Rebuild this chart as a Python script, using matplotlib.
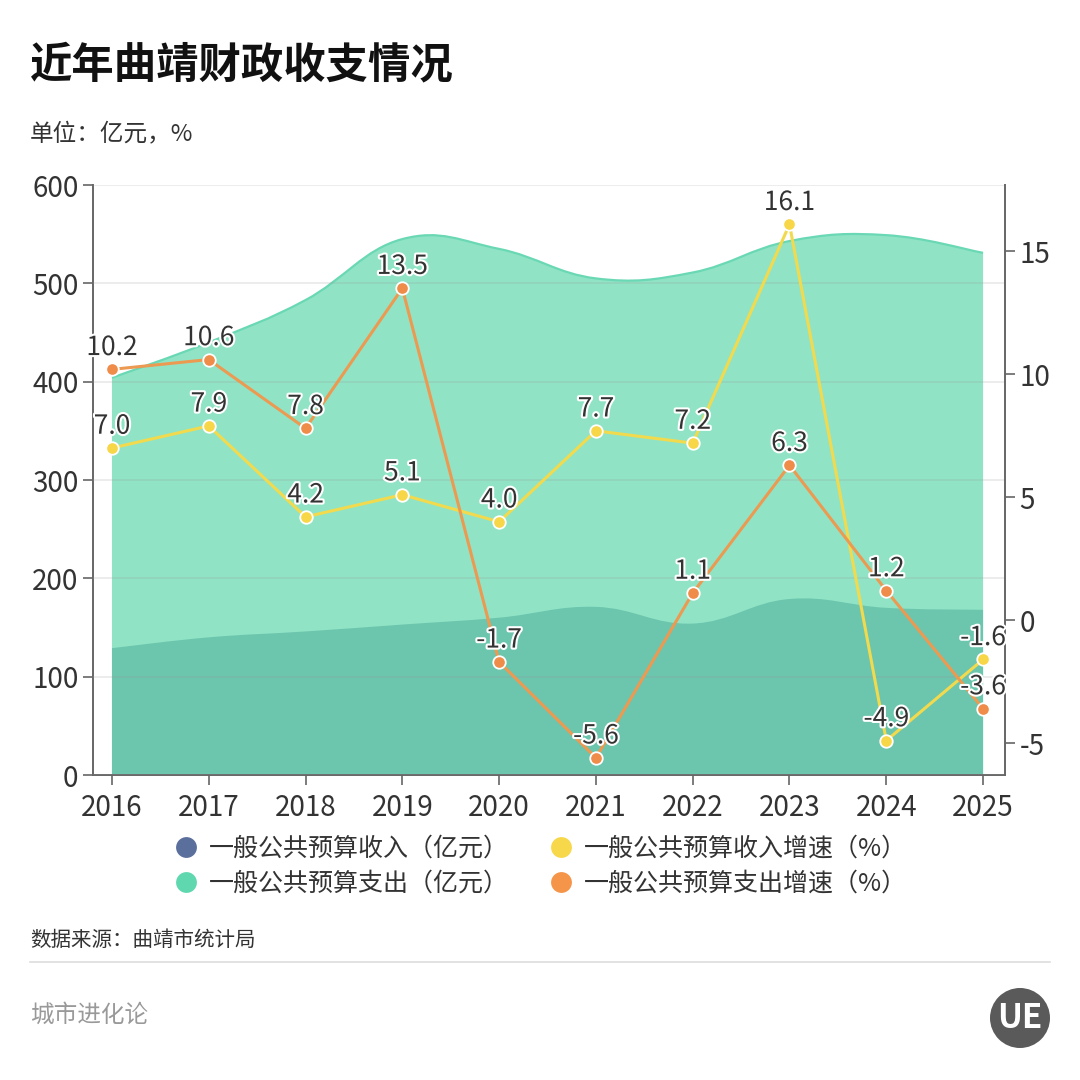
import numpy as np
import matplotlib
matplotlib.use('Agg')
import matplotlib.pyplot as plt
from matplotlib.path import Path
from matplotlib.patches import PathPatch, Circle
from matplotlib.lines import Line2D
import matplotlib.patheffects as pe

plt.rcParams['font.family'] = ['Noto Sans CJK SC', 'DejaVu Sans']

# data
years = ['2016', '2017', '2018', '2019', '2020', '2021', '2022', '2023', '2024', '2025']
revenue = [129, 140, 146, 153, 160, 171, 154, 179, 170, 168]        # 一般公共预算收入（亿元）
expenditure = [404, 440, 483, 545, 535, 505, 511, 543, 549, 531]    # 一般公共预算支出（亿元）
rev_growth = [7.0, 7.9, 4.2, 5.1, 4.0, 7.7, 7.2, 16.1, -4.9, -1.6]  # 收入增速（%）
exp_growth = [10.2, 10.6, 7.8, 13.5, -1.7, -5.6, 1.1, 6.3, 1.2, -3.6]  # 支出增速（%）

c_rev_area = '#6cc5ad'
c_exp_area = '#90e4c5'
c_exp_edge = '#6ad8b4'
c_yellow = '#f2da4e'
c_orange = '#ec9a52'
c_axis = '#666666'
c_text = '#333333'


def smooth_path(x, y, s=0.2, base=None):
    pts = np.column_stack([x, y]).astype(float)
    n = len(pts)
    verts = [pts[0]]
    codes = [Path.MOVETO]
    for i in range(n - 1):
        p0 = pts[i - 1] if i > 0 else pts[i]
        p1 = pts[i]
        p2 = pts[i + 1]
        p3 = pts[i + 2] if i + 2 < n else pts[i + 1]
        verts += [p1 + s * (p2 - p0), p2 - s * (p3 - p1), p2]
        codes += [Path.CURVE4] * 3
    if base is not None:
        verts += [(x[-1], base), (x[0], base), pts[0]]
        codes += [Path.LINETO, Path.LINETO, Path.CLOSEPOLY]
    return Path(verts, codes)


fig = plt.figure(figsize=(10.8, 10.8), dpi=100)
ax = fig.add_axes([0.0861, 0.2824, 0.8445, 0.5463])
x = np.arange(len(years))

ax.add_patch(PathPatch(smooth_path(x, expenditure, base=0), facecolor=c_exp_area,
                       edgecolor='none', zorder=1))
ax.add_patch(PathPatch(smooth_path(x, expenditure), facecolor='none',
                       edgecolor=c_exp_edge, lw=1.6, zorder=1.2))
ax.add_patch(PathPatch(smooth_path(x, revenue, base=0), facecolor=c_rev_area,
                       edgecolor='none', zorder=1.5))

ax.set_xlim(-0.196, 9.227)
ax.set_ylim(0, 600)
ax.set_yticks(range(0, 601, 100))
ax.set_xticks(x)
ax.set_xticklabels(years)
ax.grid(axis='y', color='#999999', alpha=0.22, lw=1.2, zorder=2)
ax.set_axisbelow(False)
for sp in ['top', 'right']:
    ax.spines[sp].set_visible(False)
for sp in ['left', 'bottom']:
    ax.spines[sp].set_color(c_axis)
    ax.spines[sp].set_linewidth(1.4)
ax.tick_params(axis='both', colors=c_axis, labelcolor=c_text, labelsize=20,
               length=7, width=1.2)
ax.tick_params(axis='x', pad=6)

ax2 = ax.twinx()
ax2.set_ylim(-6.3, 17.7)
ax2.set_yticks([-5, 0, 5, 10, 15])
ax2.set_yticklabels(['-5', '0', '5', '10', '15'])
for sp in ['top', 'left', 'bottom']:
    ax2.spines[sp].set_visible(False)
ax2.spines['right'].set_color(c_axis)
ax2.spines['right'].set_linewidth(1.4)
ax2.tick_params(axis='y', colors=c_axis, labelcolor=c_text, labelsize=20,
                length=7, width=1.2)

ax2.plot(x, rev_growth, color=c_yellow, lw=2.2, marker='o', ms=9,
         mfc='#f7d648', mec='white', mew=1.3, zorder=3)
ax2.plot(x, exp_growth, color=c_orange, lw=2.2, marker='o', ms=9,
         mfc='#f08c4a', mec='white', mew=1.3, zorder=3.5)

stroke = [pe.withStroke(linewidth=3, foreground='white')]
for xi, v in zip(x, rev_growth):
    ax2.annotate(f'{v:.1f}', (xi, v), xytext=(0, 6), textcoords='offset points',
                 ha='center', va='bottom', fontsize=19, color=c_text,
                 path_effects=stroke, zorder=5)
for xi, v in zip(x, exp_growth):
    ax2.annotate(f'{v:.1f}', (xi, v), xytext=(0, 6), textcoords='offset points',
                 ha='center', va='bottom', fontsize=19, color=c_text,
                 path_effects=stroke, zorder=5)

# legend
handles = [
    Line2D([], [], ls='none', marker='o', ms=15, mfc='#5b6f9c', mec='none'),
    Line2D([], [], ls='none', marker='o', ms=15, mfc='#5fd8b0', mec='none'),
    Line2D([], [], ls='none', marker='o', ms=15, mfc='#f7d84a', mec='none'),
    Line2D([], [], ls='none', marker='o', ms=15, mfc='#f5954a', mec='none'),
]
labels = ['一般公共预算收入（亿元）', '一般公共预算支出（亿元）',
          '一般公共预算收入增速（%）', '一般公共预算支出增速（%）']
fig.legend(handles, labels, loc='center', bbox_to_anchor=(0.5, 1 - 866 / 1080),
           ncol=2, frameon=False, fontsize=18, labelcolor=c_text,
           handlelength=1.0, handletextpad=0.4, columnspacing=1.6,
           labelspacing=0.35)

# titles and footer
fig.text(30 / 1080, 1 - 65 / 1080, '近年曲靖财政收支情况', fontsize=30.5,
         fontweight='bold', color='#111111', va='center', ha='left')
fig.text(30 / 1080, 1 - 135 / 1080, '单位：亿元，%', fontsize=17,
         color=c_text, va='center', ha='left')
fig.text(30 / 1080, 1 - 940 / 1080, '数据来源：曲靖市统计局', fontsize=14.8,
         color=c_text, va='center', ha='left')
fig.add_artist(Line2D([30 / 1080, 1050 / 1080], [1 - 962 / 1080] * 2,
                      color='#dddddd', lw=1.2))
fig.text(30 / 1080, 1 - 1015 / 1080, '城市进化论', fontsize=17,
         color='#999999', va='center', ha='left')

# logo
fig.add_artist(Circle((1020 / 1080, 1 - 1018 / 1080), 30 / 1080,
                      transform=fig.transFigure, facecolor='#5a5a5a',
                      edgecolor='none'))
fig.text(1020 / 1080, 1 - 1018 / 1080, 'UE', fontsize=24, fontweight='bold',
         color='white', ha='center', va='center')

fig.savefig('out.png', dpi=100)
